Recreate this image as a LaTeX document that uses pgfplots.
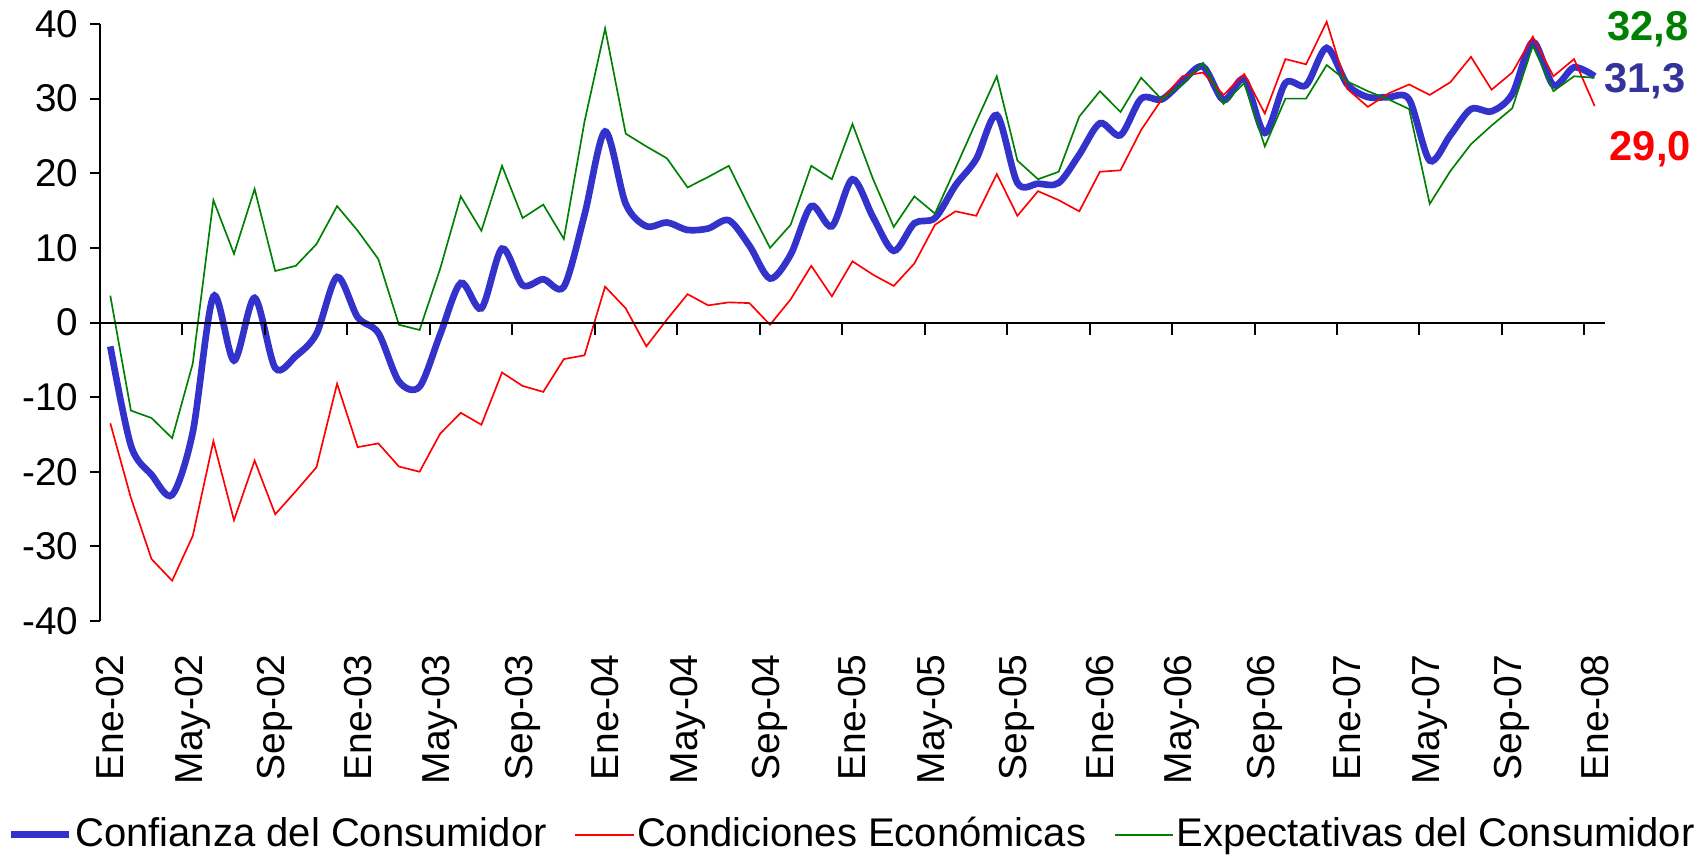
\documentclass[border=0pt]{standalone}
\usepackage{pgfplots}
\pgfplotsset{compat=1.18}
\usepackage{pgfplotstable}
\usepackage{fontspec}
\setmainfont{Liberation Sans}
\definecolor{cblue}{RGB}{51,51,204}
\definecolor{cblue2}{RGB}{51,51,153}
\definecolor{cgreen}{RGB}{0,128,0}
\definecolor{cred}{RGB}{255,0,0}
\pgfplotstableread{
i conf cond expe
0 -3.2 -13.5 3.6
1 -16.5 -23.5 -11.8
2 -20.4 -31.7 -12.8
3 -23.1 -34.6 -15.5
4 -14.7 -28.6 -5.5
5 3.5 -15.9 16.4
6 -5.1 -26.5 9.2
7 3.3 -18.5 17.9
8 -6.1 -25.7 6.9
9 -4.5 -22.6 7.6
10 -1.5 -19.4 10.5
11 6.1 -8.2 15.6
12 0.7 -16.7 12.3
13 -1.4 -16.2 8.5
14 -7.9 -19.3 -0.3
15 -8.6 -20.0 -1.0
16 -1.6 -14.9 7.2
17 5.3 -12.1 16.9
18 1.9 -13.7 12.3
19 9.9 -6.7 21.0
20 5.0 -8.5 14.0
21 5.8 -9.3 15.8
22 4.8 -4.9 11.2
23 14.4 -4.4 26.9
24 25.6 4.8 39.4
25 15.9 1.9 25.3
26 12.9 -3.2 23.6
27 13.4 0.4 22.0
28 12.4 3.8 18.1
29 12.6 2.3 19.5
30 13.7 2.7 21.0
31 10.3 2.6 15.4
32 5.9 -0.3 10.0
33 9.1 3.1 13.1
34 15.6 7.6 21.0
35 12.9 3.5 19.2
36 19.2 8.2 26.6
37 14.1 6.4 19.2
38 9.6 4.9 12.8
39 13.3 7.9 16.9
40 14.0 13.1 14.6
41 18.4 14.9 20.7
42 21.9 14.3 26.9
43 27.8 19.9 33.0
44 18.7 14.3 21.7
45 18.6 17.6 19.2
46 18.7 16.4 20.2
47 22.5 14.9 27.6
48 26.7 20.2 31.0
49 25.1 20.4 28.2
50 30.0 25.8 32.8
51 29.9 29.9 29.9
52 32.3 33.0 31.9
53 34.3 33.5 34.8
54 29.8 30.5 29.3
55 32.6 33.3 32.1
56 25.4 28.0 23.6
57 32.1 35.3 30.0
58 31.8 34.6 30.0
59 36.8 40.3 34.5
60 31.9 31.3 32.3
61 30.2 28.9 31.0
62 30.2 30.7 29.9
63 29.9 31.9 28.6
64 21.7 30.5 15.9
65 25.1 32.2 20.3
66 28.6 35.6 23.9
67 28.3 31.2 26.4
68 30.6 33.5 28.7
69 37.6 38.3 37.1
70 31.8 33.0 31.0
71 34.2 35.3 33.0
72 33.0 29.0 32.8
}\data
\begin{document}
\begin{tikzpicture}
\useasboundingbox (0,0) rectangle (511.5pt,256.5pt);
\begin{axis}[
  at={(30pt,70.2pt)}, anchor=south west,
  width=451.5pt, height=179.1pt, scale only axis,
  xmin=-0.5, xmax=72.5, ymin=-40, ymax=40,
  clip=false,
  axis y line*=left,
  axis x line*=bottom,
  x axis line style={draw=none},
  y axis line style={line width=0.6pt, black},
  xtick={0,4,...,72},
  xticklabels={Ene-02,May-02,Sep-02,Ene-03,May-03,Sep-03,Ene-04,May-04,Sep-04,Ene-05,May-05,Sep-05,Ene-06,May-06,Sep-06,Ene-07,May-07,Sep-07,Ene-08},
  xtick style={draw=none},
  xticklabel style={yshift=-3.5pt, rotate=90, anchor=east, font=\fontsize{11.7}{13}\selectfont},
  ytick={-40,-30,...,40},
  yticklabels={{-40},{-30},{-20},{-10},{0},{10},{20},{30},{40}},
  ytick style={line width=0.6pt, black},
  yticklabel style={font=\fontsize{11.6}{13}\selectfont},
  tick align=outside, major tick length=3pt,
  legend columns=3,
  legend image code/.code={\draw[#1] (0pt,0pt) -- (17.5pt,0pt);},
  legend style={draw=none, fill=none, at={(axis description cs:0.5,-0.358)}, anchor=center,
    font=\fontsize{12}{13}\selectfont, nodes={inner xsep=0.8pt},
    /tikz/every even column/.append style={column sep=7.5pt}},
]
\addplot[cblue, line width=2pt, smooth, tension=0.5] table[x=i, y=conf] {\data};
\addlegendentry{Confianza del Consumidor}
\addplot[cred, line width=0.5pt] table[x=i, y=cond] {\data};
\addlegendentry{Condiciones Económicas}
\addplot[cgreen, line width=0.5pt] table[x=i, y=expe] {\data};
\addlegendentry{Expectativas del Consumidor}
\draw[line width=0.6pt, black] (axis cs:-0.5,0) -- (axis cs:72.5,0);
\pgfplotsinvokeforeach{0,...,17}{
  \draw[line width=0.6pt, black] (axis cs:{3.5+4*#1},0) -- ++(0pt,-3.6pt);
}
\node[font=\bfseries\fontsize{12.5}{14}\selectfont, text=cgreen] at (axis cs:74.59,39.33) {32,8};
\node[font=\bfseries\fontsize{12.5}{14}\selectfont, text=cblue2] at (axis cs:74.44,32.3) {31,3};
\node[font=\bfseries\fontsize{12.5}{14}\selectfont, text=cred] at (axis cs:74.7,23.25) {29,0};
\end{axis}
\end{tikzpicture}
\end{document}
